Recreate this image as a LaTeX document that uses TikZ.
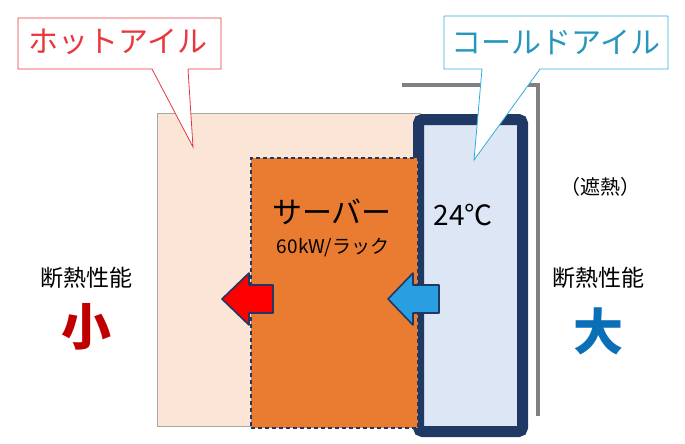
\documentclass[tikz,border=0pt]{standalone}
\usepackage{fontspec}
\setmainfont{Noto Sans CJK JP}
\begin{document}
\begin{tikzpicture}[x=1pt,y=-1pt,
  call/.style={draw=#1,fill=white,line width=0.8pt},
  arr/.style={draw=navy,line width=1.6pt,line join=round},
  lbl/.style={inner sep=0pt,anchor=center}]
\definecolor{navy}{HTML}{1F3864}
\definecolor{hotred}{HTML}{E8383D}
\definecolor{coldcyan}{HTML}{2EB0DE}
\definecolor{peach}{HTML}{FBE5D6}
\definecolor{orng}{HTML}{E97C30}
\definecolor{ice}{HTML}{DCE6F4}
\definecolor{bigblue}{HTML}{0B6FB8}
\definecolor{bigred}{HTML}{C00000}
\useasboundingbox (0,0) rectangle (685,444);
% hot aisle area
\node[draw=gray!70,fill=peach,minimum width=263,minimum height=313,anchor=north west,inner sep=0pt] (hot) at (157,113) {};
% gray insulation line
\draw[gray,line width=4pt] (402,85) -- (538,85) -- (538,416);
% cold box
\node[draw=navy,line width=11pt,rounded corners=4pt,fill=ice,minimum width=104,minimum height=312,anchor=north west,inner sep=0pt] (cold) at (413,114) {};
% server
\node[draw=navy,dash pattern=on 4pt off 3pt,line width=1.5pt,fill=orng,minimum width=167,minimum height=270,anchor=north west,inner sep=0pt] (srv) at (250,157) {};
% callouts
\draw[call=hotred] (18,18) -- (221,18) -- (221,69) -- (188,69) -- (193,147) -- (152,69) -- (18,69) -- cycle;
\node[lbl,text=hotred,font=\fontsize{30}{30}\selectfont] (hl) at (118,42) {ホットアイル};
\draw[call=coldcyan] (444,16) -- (668,16) -- (668,69) -- (540,69) -- (474,160) -- (482,69) -- (444,69) -- cycle;
\node[lbl,text=coldcyan!85!black,font=\fontsize{30}{30}\selectfont] (cl) at (556,42) {コールドアイル};
% texts
\node[lbl,font=\fontsize{30}{30}\selectfont] (s1) at (332,212) {サーバー};
\node[lbl,font=\fontsize{19}{19}\selectfont] (s2) at (333,248) {60kW/ラック};
\node[lbl,font=\fontsize{28}{28}\selectfont] (t) at (463,215) {24℃};
\node[lbl,font=\fontsize{20}{20}\selectfont] (sh) at (600,187) {（遮熱）};
\node[lbl,font=\fontsize{23}{23}\selectfont] (l1) at (86,278) {断熱性能};
\node[lbl,text=bigred,font=\fontsize{50}{50}\selectfont\bfseries] (l2) at (86,327) {小};
\node[lbl,font=\fontsize{23}{23}\selectfont] (r1) at (598,278) {断熱性能};
\node[lbl,text=bigblue,font=\fontsize{50}{50}\selectfont\bfseries] (r2) at (598,331) {大};
% arrows
\draw[arr,fill=red] (222,299) -- (249,273) -- (249,285) -- (273,285) -- (273,313) -- (249,313) -- (249,325) -- cycle;
\draw[arr,fill=coldcyan!90!blue] (388,299) -- (413,273) -- (413,285) -- (439,285) -- (439,313) -- (413,313) -- (413,325) -- cycle;
\end{tikzpicture}
\end{document}
